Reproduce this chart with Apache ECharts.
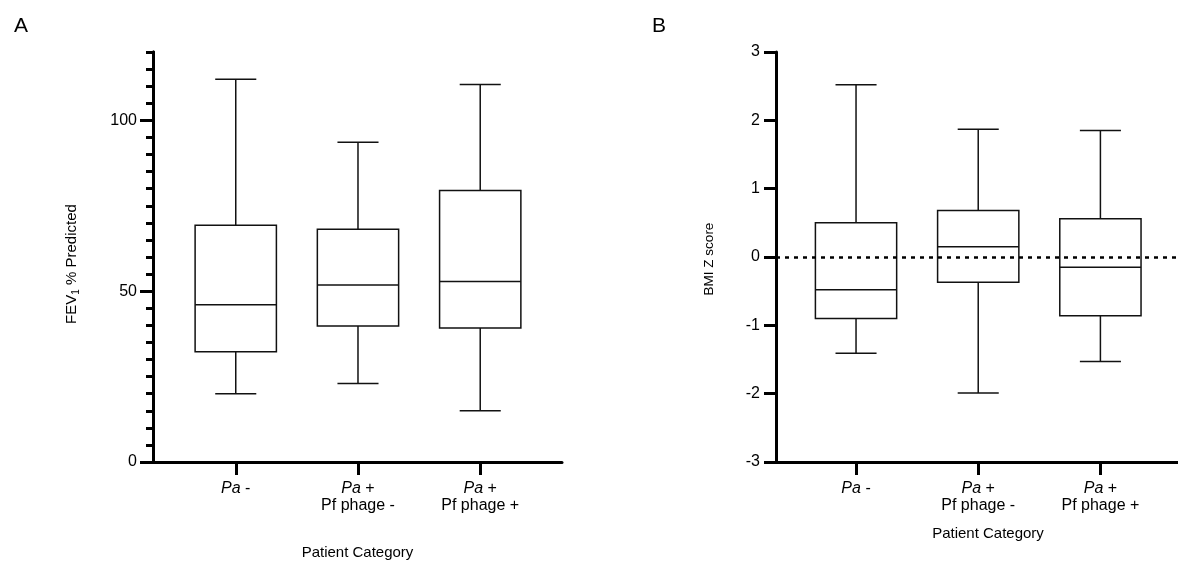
<!DOCTYPE html>
<html>
<head>
<meta charset="utf-8">
<title>FEV1 and BMI Z score by patient category</title>
<script src="https://cdn.jsdelivr.net/npm/echarts@6/dist/echarts.min.js"></script>
<style>
  html, body { margin: 0; padding: 0; background: #fff; }
  #main { width: 1178px; height: 562px; }
</style>
</head>
<body>
<div id="main"></div>
<script>
// categories and their position on the x scale
var catPos = [1, 2, 3];
var catTop = ['Pa -', 'Pa +', 'Pa +'];
var catBottom = ['', 'Pf phage -', 'Pf phage +'];

// [min, Q1, median, Q3, max]
var fevStats = [
  [20, 32.3, 46, 69.3, 112],
  [23, 39.8, 51.8, 68.1, 93.6],
  [15, 39.2, 52.8, 79.5, 110.5]
];
var bmiStats = [
  [-1.41, -0.9, -0.48, 0.5, 2.52],
  [-1.99, -0.37, 0.15, 0.68, 1.87],
  [-1.53, -0.86, -0.15, 0.56, 1.85]
];

var fevTicks = [0, 50, 100];
var bmiTicks = [-3, -2, -1, 0, 1, 2, 3];

var FONT = '"Liberation Sans", Arial, sans-serif';
var BOX_W = 0.665;  // box width in x units
var CAP_W = 0.336;  // whisker cap width in x units

function catLabel(v) {
  var i = catPos.indexOf(v);
  if (i < 0) return '';
  var top = catTop[i].replace('Pa', '{i|Pa}');
  return catBottom[i] ? top + '\n' + catBottom[i] : top;
}

function toRows(stats) {
  return stats.map(function (s, i) {
    return [catPos[i]].concat(s);
  });
}

// box, median and whiskers drawn through the axis scales
function renderBox(params, api) {
  var x = api.value(0);
  var lo = api.coord([x, api.value(1)]);
  var q1 = api.coord([x, api.value(2)]);
  var med = api.coord([x, api.value(3)]);
  var q3 = api.coord([x, api.value(4)]);
  var hi = api.coord([x, api.value(5)]);
  var cx = lo[0];
  var hb = api.size([BOX_W, 0])[0] / 2;
  var hc = api.size([CAP_W, 0])[0] / 2;
  var st = { stroke: '#111', lineWidth: 1.5, fill: null };
  return {
    type: 'group',
    children: [
      { type: 'line', shape: { x1: cx, y1: hi[1], x2: cx, y2: q3[1] }, style: st },
      { type: 'line', shape: { x1: cx, y1: q1[1], x2: cx, y2: lo[1] }, style: st },
      { type: 'line', shape: { x1: cx - hc, y1: hi[1], x2: cx + hc, y2: hi[1] }, style: st },
      { type: 'line', shape: { x1: cx - hc, y1: lo[1], x2: cx + hc, y2: lo[1] }, style: st },
      { type: 'rect', shape: { x: cx - hb, y: q3[1], width: 2 * hb, height: q1[1] - q3[1] },
        style: { stroke: '#111', lineWidth: 1.5, fill: '#fff' } },
      { type: 'line', shape: { x1: cx - hb, y1: med[1], x2: cx + hb, y2: med[1] }, style: st }
    ]
  };
}

var axisLine = { onZero: false, lineStyle: { color: '#000', width: 3 } };

function xAxisFor(grid, min, max, gap, pad) {
  return {
    type: 'value', gridIndex: grid, min: min, max: max,
    splitLine: { show: false },
    axisLine: axisLine,
    axisTick: { customValues: catPos, length: 13, lineStyle: { color: '#000', width: 3 } },
    axisLabel: {
      customValues: catPos, formatter: catLabel, margin: 18,
      color: '#000', fontFamily: FONT, fontSize: 16, lineHeight: 17,
      rich: { i: { fontStyle: 'italic', fontFamily: FONT, fontSize: 16, lineHeight: 17, color: '#000' } }
    },
    name: 'Patient Category', nameLocation: 'middle', nameGap: gap,
    nameTextStyle: { color: '#000', fontFamily: FONT, fontSize: 15, padding: pad }
  };
}

var myChart = echarts.init(document.getElementById('main'));
myChart.setOption({
  animation: false,
  backgroundColor: '#fff',
  title: [
    { text: 'A', left: 9, top: 11, textStyle: { fontFamily: FONT, fontSize: 21, fontWeight: 'normal', color: '#000' } },
    { text: 'B', left: 647, top: 11, textStyle: { fontFamily: FONT, fontSize: 21, fontWeight: 'normal', color: '#000' } }
  ],
  grid: [
    { left: 153, top: 52, width: 409, height: 410, outerBoundsMode: 'none' },
    { left: 776, top: 52, width: 402, height: 410, outerBoundsMode: 'none' }
  ],
  xAxis: [
    xAxisFor(0, 0.323, 3.669, 83, [0, 0, 0, 0]),
    xAxisFor(1, 0.345, 3.635, 64, [0, 0, 0, 22])
  ],
  yAxis: [
    // panel A: minor ticks every 5
    {
      type: 'value', gridIndex: 0, position: 'left', min: 0, max: 120, interval: 5,
      splitLine: { show: false }, axisLine: axisLine,
      axisTick: { length: 7, lineStyle: { color: '#000', width: 3 } },
      axisLabel: { show: false }
    },
    // panel A: major ticks and labels
    {
      type: 'value', gridIndex: 0, position: 'left', min: 0, max: 120,
      splitLine: { show: false }, axisLine: axisLine,
      axisTick: { customValues: fevTicks, length: 13, lineStyle: { color: '#000', width: 3 } },
      axisLabel: { customValues: fevTicks, margin: 16, color: '#000', fontFamily: FONT, fontSize: 16 },
      name: 'FEV{sub|1} % Predicted', nameLocation: 'middle', nameGap: 72,
      nameTextStyle: {
        color: '#000', fontFamily: FONT, fontSize: 15, padding: [0, 14, 0, 0],
        rich: { sub: { fontSize: 10, fontFamily: FONT, color: '#000', verticalAlign: 'bottom', padding: [8, 0, 0, 0] } }
      }
    },
    // panel B
    {
      type: 'value', gridIndex: 1, position: 'left', min: -3, max: 3, interval: 1,
      splitLine: { show: false }, axisLine: axisLine,
      axisTick: { customValues: bmiTicks, length: 12, lineStyle: { color: '#000', width: 3 } },
      axisLabel: { customValues: bmiTicks, margin: 16, color: '#000', fontFamily: FONT, fontSize: 16 },
      name: 'BMI Z score', nameLocation: 'middle', nameGap: 60,
      nameTextStyle: { color: '#000', fontFamily: FONT, fontSize: 13.5, padding: [0, 4, 0, 0] }
    }
  ],
  series: [
    {
      name: 'FEV1', type: 'custom', xAxisIndex: 0, yAxisIndex: 0, z: 3,
      renderItem: renderBox, encode: { x: 0, y: [1, 2, 3, 4, 5] },
      data: toRows(fevStats)
    },
    {
      name: 'zero', type: 'line', xAxisIndex: 1, yAxisIndex: 2, z: 1, data: [],
      markLine: {
        silent: true, symbol: 'none', label: { show: false },
        lineStyle: { color: '#000', width: 2.5, type: [4, 5] },
        data: [{ yAxis: 0 }]
      }
    },
    {
      name: 'BMI', type: 'custom', xAxisIndex: 1, yAxisIndex: 2, z: 3,
      renderItem: renderBox, encode: { x: 0, y: [1, 2, 3, 4, 5] },
      data: toRows(bmiStats)
    }
  ]
});
</script>
</body>
</html>
